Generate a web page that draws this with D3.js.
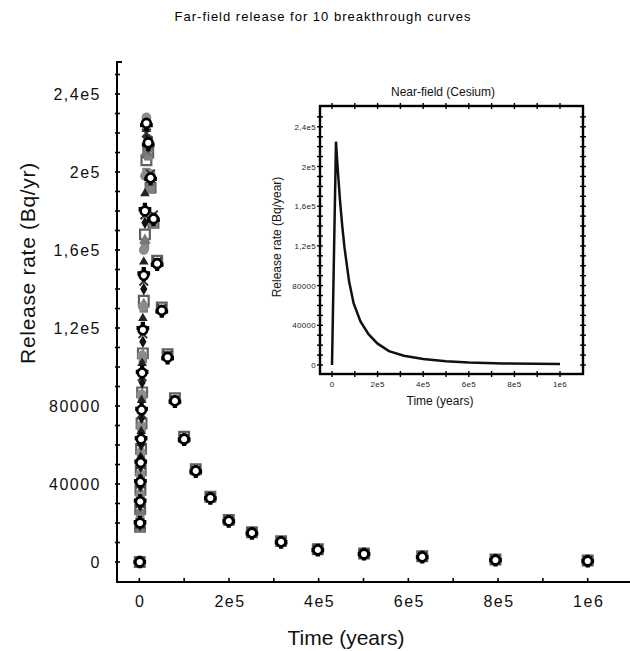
<!DOCTYPE html>
<html><head><meta charset="utf-8">
<script src="https://cdn.jsdelivr.net/npm/d3@7"></script>
<style>
html,body{margin:0;padding:0;background:#fff;}
svg{display:block;font-family:"Liberation Sans",Arial,sans-serif;}
</style></head>
<body>
<script>
// ---------- data ----------
const times = [1000, 1585, 1995, 2512, 3162, 3981, 5012, 6310, 7943, 10000, 12589, 15849, 19953, 25119, 31623, 39811, 50119, 63096, 79433, 100000, 125893, 158489, 199526, 251189, 316228, 398107, 501187, 630957, 794328, 1000000];

const curveSquareOpen   = [0, 18000, 27000, 37000, 47000, 58000, 71000, 87000, 107000, 134000, 168000, 206000, 210000, 192000, 174000, 154500, 130500, 106500, 84000, 64200, 47600, 33500, 21600, 15300, 10700, 6500, 4400, 2900, 1300, 800];
const curveSquareGray   = [0, 17500, 25000, 34000, 44000, 55000, 68000, 84000, 104000, 130000, 162000, 200000, 208000, 191000, 173000, 153500, 129800, 106000, 83400, 63600, 47200, 33200, 21300, 15100, 10500, 6400, 4300, 2800, 1200, 700];
const curveTriangleGray = [0, 17000, 26000, 36000, 46000, 57000, 70000, 86000, 106000, 132000, 165000, 210000, 212000, 194000, 175000, 153000, 129000, 105000, 82800, 63200, 46900, 33000, 21100, 15000, 10400, 6300, 4200, 2700, 1100, 600];
const curveCircleGray   = [0, 22000, 34000, 45000, 56000, 70000, 86000, 106000, 131000, 160000, 198000, 228000, 217000, 199000, 177000, 153500, 129500, 105500, 83000, 63400, 47000, 33000, 21200, 15000, 10400, 6300, 4200, 2700, 1100, 600];
const curveDiamond      = [0, 19000, 29000, 39000, 49000, 60000, 74000, 92000, 113000, 140000, 174000, 218000, 213000, 196000, 175500, 152500, 128500, 104500, 82300, 62800, 46500, 32700, 20900, 14800, 10200, 6100, 4000, 2500, 900, 400];
const curveTriangle     = [0, 21000, 32000, 43000, 54000, 67000, 83000, 102000, 125000, 154000, 189000, 222000, 214000, 196000, 176000, 153000, 129000, 105000, 82600, 63000, 46700, 32800, 21000, 14900, 10300, 6200, 4100, 2600, 1000, 500];
const curveCross        = [0, 19500, 30000, 40000, 50000, 62000, 76000, 95000, 117000, 144000, 178000, 220000, 216000, 199000, 178000, 154000, 130000, 106000, 83000, 63300, 46900, 33000, 21100, 15000, 10400, 6300, 4200, 2700, 1100, 600];
const curveSmallSquare  = [0, 19000, 30000, 40000, 50000, 62000, 77000, 95000, 118000, 145000, 179000, 223000, 214500, 197000, 176000, 152800, 128800, 104800, 82400, 62900, 46600, 32700, 20900, 14800, 10200, 6100, 4000, 2500, 900, 400];
const curvePlus         = [0, 20500, 31500, 41500, 51500, 63500, 78500, 97500, 120000, 148000, 181000, 224000, 214000, 196500, 175500, 152500, 128500, 104500, 82200, 62700, 46400, 32600, 20800, 14700, 10100, 6100, 4000, 2500, 900, 400];
const curveCircle       = [0, 20000, 31000, 41000, 51000, 63000, 78000, 97000, 119000, 147000, 180000, 225000, 215000, 197000, 176000, 153000, 129000, 105000, 82600, 63000, 46700, 32800, 21000, 14900, 10300, 6200, 4100, 2600, 1000, 500];

const nearTimes  = [0, 17500, 25000, 35000, 45000, 55000, 75000, 95000, 125000, 160000, 200000, 250000, 315000, 400000, 500000, 600000, 750000, 1000000];
const nearValues = [0, 225000, 198000, 166000, 140000, 118000, 84000, 62000, 44000, 31000, 21500, 14000, 9300, 6000, 3800, 2500, 1600, 1000];

const xTicks = [0, 200000, 400000, 600000, 800000, 1000000];
const xTickLabels = ["0", "2e5", "4e5", "6e5", "8e5", "1e6"];
const yTicks = [0, 40000, 80000, 120000, 160000, 200000, 240000];
const yTickLabels = ["0", "40000", "80000", "1,2e5", "1,6e5", "2e5", "2,4e5"];

// ---------- drawing ----------
const svg = d3.select("body").append("svg").attr("width", 630).attr("height", 651);

const x = d3.scaleLinear().domain([0, 1000000]).range([139.3, 587.7]);
const y = d3.scaleLinear().domain([0, 240000]).range([562, 94]);

// title
svg.append("text").attr("x", 323).attr("y", 21).attr("text-anchor", "middle")
  .style("font-size", "13px").style("letter-spacing", "1px").text("Far-field release for 10 breakthrough curves");

// axes lines
const ax = svg.append("g").attr("stroke", "#000").attr("stroke-width", 2).attr("fill", "none");
ax.append("path").attr("d", "M122,62H117V582H632");

// minor / major ticks
const yMinor = d3.range(0, 260000, 10000);
svg.append("g").selectAll("line").data(yMinor).join("line")
  .attr("x1", 115).attr("x2", 120).attr("y1", d => y(d)).attr("y2", d => y(d))
  .attr("stroke", "#000").attr("stroke-width", 1.6);
const xMinor = d3.range(0, 1100001, 100000);
svg.append("g").selectAll("line").data(xMinor).join("line")
  .attr("x1", d => x(d)).attr("x2", d => x(d)).attr("y1", 578).attr("y2", 583)
  .attr("stroke", "#000").attr("stroke-width", 1.6);

// tick labels
svg.append("g").selectAll("text").data(yTicks).join("text")
  .attr("x", 101).attr("y", d => y(d) + 5.5).attr("text-anchor", "end")
  .style("font-size", "16px").style("letter-spacing", "1.5px").attr("fill", "#111")
  .text((d, i) => yTickLabels[i]);
svg.append("g").selectAll("text").data(xTicks).join("text")
  .attr("x", d => x(d) + 1).attr("y", 606.5).attr("text-anchor", "middle")
  .style("font-size", "16px").style("letter-spacing", "1.5px").attr("fill", "#111")
  .text((d, i) => xTickLabels[i]);

// axis titles
svg.append("text").attr("x", 346).attr("y", 645).attr("text-anchor", "middle")
  .style("font-size", "21px").attr("fill", "#111").text("Time (years)");
svg.append("text").attr("transform", "translate(35,263) rotate(-90)").attr("text-anchor", "middle")
  .style("font-size", "21px").style("letter-spacing", "0.7px").attr("fill", "#111").text("Release rate (Bq/yr)");

// ---------- scatter series ----------
const series = [
  {vals: curveSquareOpen,   type: d3.symbolSquare,   size: 95, fill: "#fff",    stroke: "#606060", sw: 2.2},
  {vals: curveSquareGray,   type: d3.symbolSquare,   size: 70, fill: "#808080", stroke: "none",    sw: 0},
  {vals: curveTriangleGray, type: d3.symbolTriangle, size: 60, fill: "#777",    stroke: "none",    sw: 0},
  {vals: curveCircleGray,   type: d3.symbolCircle,   size: 75, fill: "#8c8c8c", stroke: "none",    sw: 0},
  {vals: curveDiamond,      type: d3.symbolDiamond,  size: 45, fill: "#111",    stroke: "none",    sw: 0},
  {vals: curveTriangle,     type: d3.symbolTriangle, size: 40, fill: "#222",    stroke: "none",    sw: 0},
  {vals: curveCross,        type: d3.symbolX,        size: 50, fill: "none",    stroke: "#333",    sw: 2},
  {vals: curveSmallSquare,  type: d3.symbolSquare,   size: 20, fill: "#111",    stroke: "none",    sw: 0},
  {vals: curvePlus,         type: d3.symbolCross,    size: 90, fill: "#000",    stroke: "none",    sw: 0},
  {vals: curveCircle,       type: d3.symbolCircle,   size: 60, fill: "#fff",    stroke: "#000",    sw: 2.6}
];

series.forEach(s => {
  const sym = d3.symbol().type(s.type).size(s.size)();
  svg.append("g").selectAll("path").data(times.map((t, i) => [t, s.vals[i]])).join("path")
    .attr("d", sym)
    .attr("transform", d => `translate(${x(d[0])},${y(d[1])})`)
    .attr("fill", s.fill).attr("stroke", s.stroke).attr("stroke-width", s.sw);
});

// ---------- inset ----------
const ix = d3.scaleLinear().domain([0, 1000000]).range([332, 560]);
const iy = d3.scaleLinear().domain([0, 240000]).range([365, 126.8]);
const ins = svg.append("g");
ins.append("rect").attr("x", 320).attr("y", 106).attr("width", 263).attr("height", 268)
  .attr("fill", "#fff").attr("stroke", "#000").attr("stroke-width", 2.4);

const iyMinor = d3.range(0, 260000, 10000);
const ixMinor = d3.range(0, 1050001, 100000);
ins.append("g").selectAll("line").data(iyMinor).join("line")
  .attr("x1", 317).attr("x2", 323).attr("y1", d => iy(d)).attr("y2", d => iy(d))
  .attr("stroke", "#000").attr("stroke-width", 1.4);
ins.append("g").selectAll("line").data(iyMinor).join("line")
  .attr("x1", 580).attr("x2", 586).attr("y1", d => iy(d)).attr("y2", d => iy(d))
  .attr("stroke", "#000").attr("stroke-width", 1.4);
ins.append("g").selectAll("line").data(ixMinor).join("line")
  .attr("x1", d => ix(d)).attr("x2", d => ix(d)).attr("y1", 371).attr("y2", 377)
  .attr("stroke", "#000").attr("stroke-width", 1.4);
ins.append("g").selectAll("line").data(ixMinor).join("line")
  .attr("x1", d => ix(d)).attr("x2", d => ix(d)).attr("y1", 103).attr("y2", 109)
  .attr("stroke", "#000").attr("stroke-width", 1.4);

ins.append("g").selectAll("text").data(yTicks).join("text")
  .attr("x", 316).attr("y", d => iy(d) + 3).attr("text-anchor", "end")
  .style("font-size", "8px").style("letter-spacing", "0.3px").attr("fill", "#222")
  .text((d, i) => yTickLabels[i]);
ins.append("g").selectAll("text").data(xTicks).join("text")
  .attr("x", d => ix(d)).attr("y", 387).attr("text-anchor", "middle")
  .style("font-size", "8px").style("letter-spacing", "0.3px").attr("fill", "#222")
  .text((d, i) => xTickLabels[i]);

ins.append("text").attr("x", 443).attr("y", 95.5).attr("text-anchor", "middle")
  .style("font-size", "12px").attr("fill", "#111").text("Near-field (Cesium)");
ins.append("text").attr("x", 440).attr("y", 405).attr("text-anchor", "middle")
  .style("font-size", "12px").attr("fill", "#111").text("Time (years)");
ins.append("text").attr("transform", "translate(281,237) rotate(-90)").attr("text-anchor", "middle")
  .style("font-size", "12px").attr("fill", "#111").text("Release rate (Bq/year)");

const line = d3.line().x((d, i) => ix(nearTimes[i])).y(d => iy(d));
ins.append("path").attr("d", line(nearValues)).attr("fill", "none")
  .attr("stroke", "#111").attr("stroke-width", 2.5).attr("stroke-linejoin", "miter");
</script>
</body></html>
